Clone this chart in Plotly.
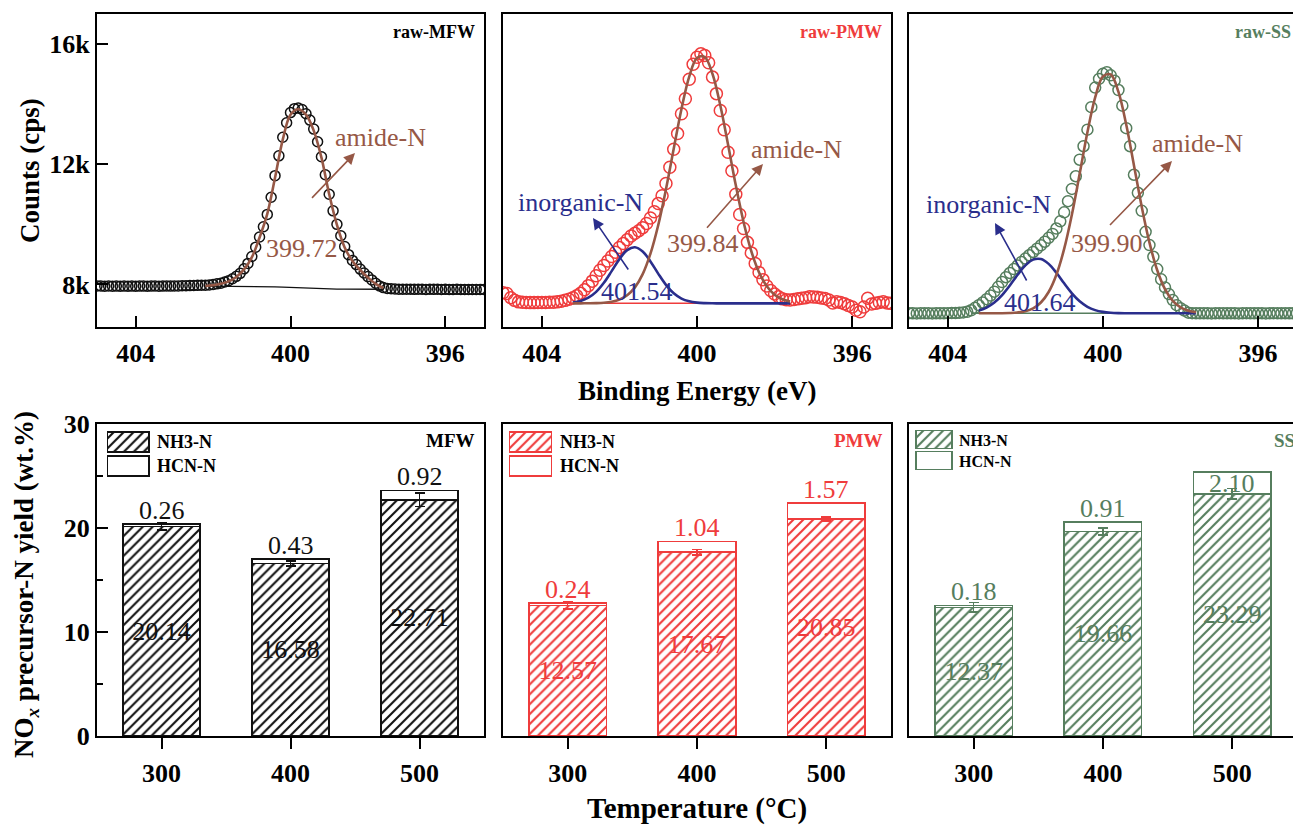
import plotly.graph_objects as go

W, H = 1293, 826
FONT = "Liberation Serif, Times New Roman, serif"


def px(x):
    return x / W


def py(y):
    return 1 - y / H


# ---------------- XPS N1s data (binding energy in eV, counts in cps) ----------------
energy = [
    405.0, 404.9, 404.8, 404.7, 404.6, 404.5, 404.4, 404.3, 404.2, 404.1,
    404.0, 403.9, 403.8, 403.7, 403.6, 403.5, 403.4, 403.3, 403.2, 403.1,
    403.0, 402.9, 402.8, 402.7, 402.6, 402.5, 402.4, 402.3, 402.2, 402.1,
    402.0, 401.9, 401.8, 401.7, 401.6, 401.5, 401.4, 401.3, 401.2, 401.1,
    401.0, 400.9, 400.8, 400.7, 400.6, 400.5, 400.4, 400.3, 400.2, 400.1,
    400.0, 399.9, 399.8, 399.7, 399.6, 399.5, 399.4, 399.3, 399.2, 399.1,
    399.0, 398.9, 398.8, 398.7, 398.6, 398.5, 398.4, 398.3, 398.2, 398.1,
    398.0, 397.9, 397.8, 397.7, 397.6, 397.5, 397.4, 397.3, 397.2, 397.1,
    397.0, 396.9, 396.8, 396.7, 396.6, 396.5, 396.4, 396.3, 396.2, 396.1,
    396.0, 395.9, 395.8, 395.7, 395.6, 395.5, 395.4, 395.3, 395.2, 395.1,
    395.0,
]

counts_mfw = [
    7950, 7945, 7940, 7948, 7942, 7945, 7940, 7946, 7943, 7945,
    7940, 7944, 7946, 7941, 7945, 7948, 7942, 7945, 7950, 7946,
    7948, 7952, 7955, 7958, 7962, 7966, 7970, 7972, 7975, 7985,
    8000, 8020, 8040, 8080, 8125, 8190, 8270, 8370, 8520, 8700,
    8930, 9240, 9580, 9920, 10330, 10900, 11620, 12280, 12900, 13380,
    13720, 13850, 13870, 13820, 13680, 13470, 13170, 12750, 12250, 11650,
    11000, 10450, 10000, 9620, 9260, 8990, 8800, 8660, 8510, 8380,
    8260, 8150, 8040, 7950, 7895, 7868, 7855, 7848, 7843, 7840,
    7838, 7842, 7836, 7840, 7838, 7835, 7840, 7836, 7838, 7834,
    7837, 7835, 7832, 7836, 7834, 7835, 7832, 7834, 7830, 7833,
    7835,
]

counts_pmw = [
    7720, 7700, 7560, 7470, 7420, 7405, 7398, 7395, 7395, 7398,
    7400, 7402, 7405, 7410, 7420, 7440, 7470, 7510, 7560, 7620,
    7710, 7820, 7960, 8110, 8290, 8470, 8630, 8780, 8930, 9070,
    9230, 9360, 9490, 9610, 9700, 9790, 9890, 10030, 10210, 10420,
    10690, 10950, 11360, 11900, 12500, 13020, 13680, 14180, 14830, 15330,
    15560, 15680, 15620, 15380, 14900, 14350, 13790, 13150, 12400, 11780,
    11000, 10330, 9860, 9400, 9050, 8700, 8400, 8160, 7950, 7800,
    7680, 7590, 7520, 7490, 7480, 7500, 7520, 7540, 7560, 7590,
    7585, 7570, 7550, 7530, 7480, 7380, 7420, 7400, 7360, 7300,
    7250, 7140, 7090, 7250, 7540, 7350, 7370, 7400, 7420, 7380,
    7370,
]

counts_ss = [
    7045, 7040, 7035, 7042, 7038, 7040, 7036, 7042, 7040, 7038,
    7044, 7046, 7050, 7058, 7068, 7090, 7140, 7220, 7310, 7400,
    7510, 7630, 7760, 7920, 8080, 8240, 8380, 8510, 8630, 8750,
    8860, 8970, 9080, 9190, 9300, 9420, 9550, 9680, 9860, 10100,
    10400, 10770, 11180, 11600, 12150, 12600, 13150, 13900, 14550, 14840,
    15010, 15060, 14960, 14780, 14470, 13950, 13200, 12600, 11650, 11050,
    10450, 9750, 9310, 8920, 8510, 8170, 7900, 7680, 7480, 7310,
    7210, 7130, 7060, 7045, 7040, 7038, 7042, 7040, 7036, 7040,
    7044, 7040, 7038, 7042, 7040, 7036, 7040, 7043, 7040, 7038,
    7041, 7040, 7036, 7040, 7043, 7040, 7038, 7041, 7040, 7038,
    7040,
]

# fitted components
fit_energy = [403.2, 403.0, 402.8, 402.6, 402.4, 402.2, 402.0, 401.8, 401.6, 401.4,
              401.2, 401.0, 400.8, 400.6, 400.4, 400.2, 400.0, 399.8, 399.6, 399.4,
              399.2, 399.0, 398.8, 398.6, 398.4, 398.2, 398.0, 397.8, 397.6]

amide_mfw = [None, None, None, None, None, 7950, 7975, 8020, 8100, 8250,
             8500, 8900, 9560, 10350, 11550, 12820, 13650, 13830, 13650, 13120,
             12220, 11000, 9980, 9230, 8780, 8480, 8230, 8020, 7880]
backg_mfw = [None, None, None, None, None, 7946, 7945, 7944, 7943, 7942,
             7940, 7937, 7932, 7926, 7918, 7908, 7896, 7884, 7872, 7862,
             7855, 7850, 7846, 7844, 7842, 7841, 7840, 7840, 7840]

amide_pmw = [7370, 7371, 7373, 7378, 7392, 7425, 7496, 7640, 7902, 8342,
             9022, 9970, 11168, 12517, 13841, 14918, 15537, 15567, 15002, 13962,
             12656, 11298, 10079, 9104, 8399, 7937, 7659, 7507, 7430]
inorg_pmw = [7400, 7450, 7557, 7752, 8054, 8442, 8843, 9143, 9239, 9096,
             8767, 8360, 7985, 7705, 7530, 7437, 7394, 7378, 7372, 7370,
             7370, 7370, 7370, 7370, 7370, 7370, 7370, 7370, 7370]
backg_pmw_energy = [403.3, 397.6]
backg_pmw = [7370, 7370]

amide_ss = [7040, 7040, 7041, 7043, 7050, 7068, 7111, 7206, 7398, 7747,
            8323, 9182, 10328, 11681, 13062, 14224, 14920, 14986, 14407, 13320,
            11961, 10587, 9390, 8471, 7842, 7452, 7235, 7125, 7074]
inorg_ss = [7130, 7229, 7396, 7646, 7967, 8320, 8633, 8826, 8845, 8684,
            8389, 8037, 7705, 7439, 7256, 7145, 7086, 7058, 7046, 7042,
            7040, 7040, 7040, 7040, 7040, 7040, 7040, 7040, 7040]
backg_ss_energy = [403.4, 397.6]
backg_ss = [7040, 7040]

xps_ticks = [404, 400, 396]
count_ticks = [8000, 12000, 16000]
count_ticklabels = ["8k", "12k", "16k"]

# ---------------- NOx precursor yields (wt.%) ----------------
temps = ["300", "400", "500"]
nh3_mfw = [20.14, 16.58, 22.71]
hcn_mfw = [0.26, 0.43, 0.92]
err_mfw = [0.35, 0.25, 0.65]
nh3_pmw = [12.57, 17.67, 20.85]
hcn_pmw = [0.24, 1.04, 1.57]
err_pmw = [0.35, 0.25, 0.2]
nh3_ss = [12.37, 19.66, 23.29]
hcn_ss = [0.18, 0.91, 2.10]
err_ss = [0.45, 0.35, 0.5]
yield_ticks = [0, 10, 20, 30]

BLACK = "#111111"
RED = "#EF3C3C"
GREEN = "#567E5E"
BROWN = "#965846"
NAVY = "#2A2E8C"

fig = go.Figure()

# ---------------- top panels ----------------
top_panels = [
    ("x", "y", counts_mfw, BLACK, 10),
    ("x2", "y2", counts_pmw, RED, 12),
    ("x3", "y3", counts_ss, GREEN, 11),
]
for xa, ya, cts, col, msize in top_panels:
    fig.add_trace(go.Scatter(
        x=energy, y=cts, mode="markers", xaxis=xa, yaxis=ya,
        marker=dict(symbol="circle-open", size=msize, color=col, line=dict(width=1.5, color=col)),
    ))

fig.add_trace(go.Scatter(x=fit_energy, y=backg_mfw, mode="lines", xaxis="x", yaxis="y",
                         line=dict(color=BLACK, width=1.3)))
fig.add_trace(go.Scatter(x=fit_energy, y=amide_mfw, mode="lines", xaxis="x", yaxis="y",
                         line=dict(color=BROWN, width=2.6, shape="spline")))

fig.add_trace(go.Scatter(x=backg_pmw_energy, y=backg_pmw, mode="lines", xaxis="x2", yaxis="y2",
                         line=dict(color=RED, width=1.5)))
fig.add_trace(go.Scatter(x=fit_energy, y=inorg_pmw, mode="lines", xaxis="x2", yaxis="y2",
                         line=dict(color=NAVY, width=2.6, shape="spline")))
fig.add_trace(go.Scatter(x=fit_energy, y=amide_pmw, mode="lines", xaxis="x2", yaxis="y2",
                         line=dict(color=BROWN, width=2.6, shape="spline")))

fig.add_trace(go.Scatter(x=backg_ss_energy, y=backg_ss, mode="lines", xaxis="x3", yaxis="y3",
                         line=dict(color=GREEN, width=1.5)))
fig.add_trace(go.Scatter(x=fit_energy, y=inorg_ss, mode="lines", xaxis="x3", yaxis="y3",
                         line=dict(color=NAVY, width=2.6, shape="spline")))
fig.add_trace(go.Scatter(x=fit_energy, y=amide_ss, mode="lines", xaxis="x3", yaxis="y3",
                         line=dict(color=BROWN, width=2.6, shape="spline")))


# ---------------- bottom panels ----------------
def pattern(col):
    return dict(shape="/", fgcolor=col, bgcolor="white", size=7, solidity=0.3)


bar_panels = [
    ("x4", "y4", nh3_mfw, hcn_mfw, err_mfw, BLACK),
    ("x5", "y5", nh3_pmw, hcn_pmw, err_pmw, RED),
    ("x6", "y6", nh3_ss, hcn_ss, err_ss, GREEN),
]
annotations = []
for xa, ya, nh3, hcn, err, col in bar_panels:
    fig.add_trace(go.Bar(
        x=temps, y=nh3, xaxis=xa, yaxis=ya, width=0.6,
        marker=dict(color="white", line=dict(color=col, width=1.5), pattern=pattern(col)),
        text=[f"{v:.2f}" for v in nh3], textposition="inside", insidetextanchor="middle",
        textangle=0, constraintext="none",
        textfont=dict(family=FONT, size=26, color=col),
        error_y=dict(type="data", array=err, visible=True, color=col, thickness=1.5, width=5),
    ))
    fig.add_trace(go.Bar(
        x=temps, y=hcn, xaxis=xa, yaxis=ya, width=0.6,
        marker=dict(color="rgba(255,255,255,0)", line=dict(color=col, width=1.5)),
    ))
    for j in range(len(temps)):
        total = nh3[j] + hcn[j]
        shift = -12 if (xa == "x6" and j == 2) else 13.5
        annotations.append(dict(
            x=j, y=total, xref=xa, yref=ya, text=f"{hcn[j]:.2f}", showarrow=False,
            yshift=shift, yanchor="middle", xanchor="center",
            font=dict(family=FONT, size=26, color=col),
        ))

# legend swatches drawn as bars on small inset axes
legend_axes = [("x7", "y7", BLACK), ("x8", "y8", RED), ("x9", "y9", GREEN)]
for xa, ya, col in legend_axes:
    fig.add_trace(go.Bar(
        x=[1], y=[1], orientation="h", width=0.85, xaxis=xa, yaxis=ya,
        marker=dict(color="white", line=dict(color=col, width=1.5), pattern=pattern(col)),
    ))
    fig.add_trace(go.Bar(
        x=[1], y=[0], orientation="h", width=0.85, xaxis=xa, yaxis=ya,
        marker=dict(color="white", line=dict(color=col, width=1.5)),
    ))

# ---------------- axes ----------------
frame = dict(showline=True, linecolor="black", linewidth=2, mirror=True, automargin=False,
             showgrid=False, zeroline=False, tickcolor="black", tickwidth=2,
             tickfont=dict(family=FONT, size=26, color="black", weight=700))

top_dom = [py(326.5), py(14)]
bot_dom = [py(736), py(424)]
xdoms = [[px(97), px(484)], [px(503), px(891)], [px(909), 1.0]]
xps_ranges = [[405, 395], [405, 395], [405, 395.1]]

layout_axes = {}
for i in range(3):
    n = "" if i == 0 else str(i + 1)
    layout_axes["xaxis" + n] = dict(
        frame, domain=xdoms[i], range=xps_ranges[i], anchor="y" + n,
        tickvals=xps_ticks, ticktext=[str(v) for v in xps_ticks],
        ticks="inside", ticklen=11, ticklabelstandoff=2,
    )
    yax = dict(frame, domain=top_dom, range=[6600, 17000], anchor="x" + n)
    if i == 0:
        yax.update(tickvals=count_ticks, ticktext=count_ticklabels, ticks="inside", ticklen=11)
    else:
        yax.update(showticklabels=False, ticks="")
    if i == 2:
        yax.update(mirror=False)
    layout_axes["yaxis" + n] = yax

for i in range(3):
    n = str(i + 4)
    layout_axes["xaxis" + n] = dict(
        frame, domain=xdoms[i], type="category",
        range=[-0.5, 2.47] if i == 2 else [-0.5, 2.5], anchor="y" + n,
        ticks="outside", ticklen=11, ticklabelstandoff=2,
    )
    yax = dict(frame, domain=bot_dom, range=[0, 30], anchor="x" + n)
    if i == 0:
        yax.update(tickvals=yield_ticks, ticks="inside", ticklen=11,
                   minor=dict(ticks="inside", ticklen=6, tickvals=[5, 15, 25],
                              tickcolor="black", tickwidth=2))
    else:
        yax.update(showticklabels=False, ticks="")
    if i == 2:
        yax.update(mirror=False)
    layout_axes["yaxis" + n] = yax

hidden = dict(visible=False, fixedrange=True, automargin=False)
legend_boxes = [
    ([px(106), px(150)], [py(478), py(430)]),
    ([px(508), px(553)], [py(478), py(430)]),
    ([px(915), px(953)], [py(471), py(429)]),
]
for k, (xd, yd) in enumerate(legend_boxes):
    n = str(k + 7)
    layout_axes["xaxis" + n] = dict(hidden, domain=xd, range=[-0.03, 1.03], anchor="y" + n)
    layout_axes["yaxis" + n] = dict(hidden, domain=yd, range=[-0.5, 1.5], anchor="x" + n)


# ---------------- text annotations ----------------
def txt(text, x, y, size=26, color="black", bold=False, xanchor="center", angle=0):
    return dict(text=text, x=px(x), y=py(y), xref="paper", yref="paper", showarrow=False,
                xanchor=xanchor, yanchor="middle", textangle=angle,
                font=dict(family=FONT, size=size, color=color, weight=700 if bold else 400))


def arrow(tail, head, color):
    return dict(text=" ", x=px(head[0]), y=py(head[1]), xref="paper", yref="paper",
                ax=tail[0] - head[0], ay=tail[1] - head[1], showarrow=True,
                arrowhead=2, arrowsize=1.4, arrowwidth=1.6, arrowcolor=color, standoff=0,
                font=dict(size=2))


annotations += [
    txt("raw-MFW", 477, 32, size=18, bold=True, xanchor="right"),
    txt("raw-PMW", 884, 32, size=18, color=RED, bold=True, xanchor="right"),
    txt("raw-SS", 1233, 32, size=18, color=GREEN, bold=True, xanchor="left"),
    txt("amide-N", 380, 138, color=BROWN),
    txt("399.72", 302, 248, color=BROWN),
    arrow((310, 200), (355, 153), BROWN),
    txt("amide-N", 796, 149, color=BROWN),
    txt("399.84", 703, 243, color=BROWN),
    arrow((705, 230), (763, 164), BROWN),
    txt("inorganic-N", 580, 202, color=NAVY),
    txt("401.54", 637, 291, color=NAVY),
    arrow((630, 272), (593, 218), NAVY),
    txt("amide-N", 1197, 143, color=BROWN),
    txt("399.90", 1107, 243, color=BROWN),
    arrow((1108, 227), (1172, 161), BROWN),
    txt("inorganic-N", 988, 204, color=NAVY),
    txt("401.64", 1040, 303, color=NAVY),
    arrow((1028, 283), (995, 223), NAVY),
    txt("Counts (cps)", 30, 171, size=27, bold=True, angle=-90),
    txt("Binding Energy (eV)", 697, 391, size=27, bold=True),
    txt("NO<sub><i>x</i></sub> precursor-N yield (wt.%)", 26, 585, size=27, bold=True, angle=-90),
    txt("Temperature (°C)", 697, 808, size=29, bold=True),
    txt("MFW", 477, 440, size=19, bold=True, xanchor="right"),
    txt("PMW", 885, 440, size=19, color=RED, bold=True, xanchor="right"),
    txt("SS", 1272, 440, size=19, color=GREEN, bold=True, xanchor="left"),
    txt("NH3-N", 155, 442, size=18, bold=True, xanchor="left"),
    txt("HCN-N", 155, 466, size=18, bold=True, xanchor="left"),
    txt("NH3-N", 558, 442, size=18, bold=True, xanchor="left"),
    txt("HCN-N", 558, 466, size=18, bold=True, xanchor="left"),
    txt("NH3-N", 957, 440, size=16, bold=True, xanchor="left"),
    txt("HCN-N", 957, 461, size=16, bold=True, xanchor="left"),
]

fig.update_layout(
    template="none",
    width=W, height=H, margin=dict(l=0, r=0, t=0, b=0, pad=0),
    paper_bgcolor="white", plot_bgcolor="white",
    showlegend=False, barmode="stack", bargap=0.4,
    font=dict(family=FONT, color="black"),
    annotations=annotations,
    **layout_axes,
)

fig.write_html("out.html")
